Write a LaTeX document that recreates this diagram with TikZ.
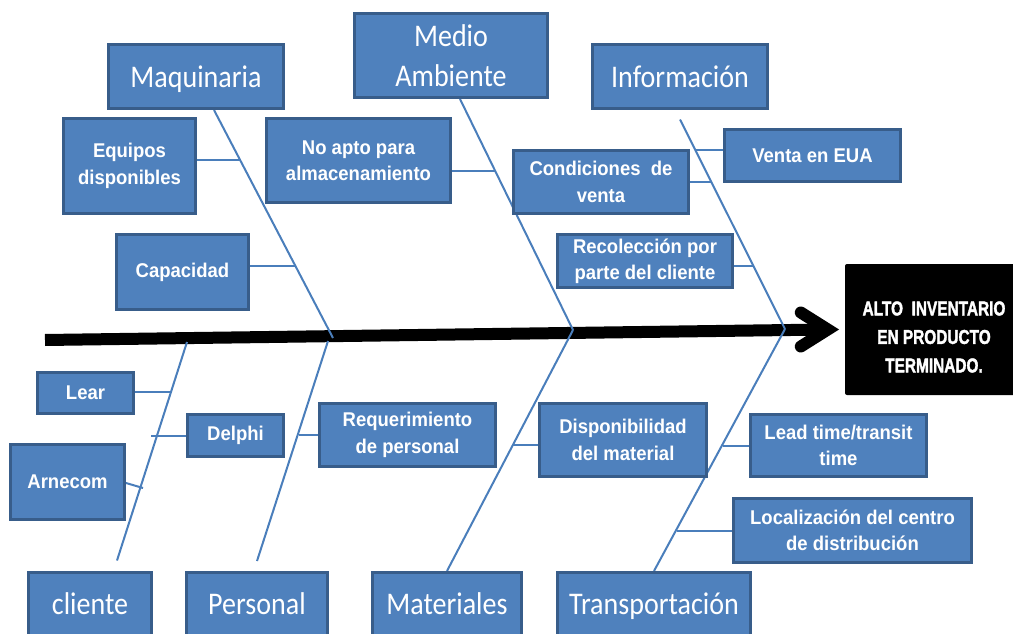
\documentclass[tikz,border=0pt]{standalone}
\usepackage{fontspec}
\newfontfamily\carl[FakeStretch=0.89]{Carlito}
\newfontfamily\lsans[FakeStretch=0.93]{Liberation Sans}
\newfontfamily\effont[FakeBold=2]{Liberation Sans}
\usetikzlibrary{backgrounds,calc}
\definecolor{boxfill}{RGB}{79,129,189}
\definecolor{boxline}{RGB}{56,93,138}
\definecolor{bonecol}{RGB}{74,126,187}
\begin{document}
\begin{tikzpicture}[x=1pt,y=-1pt,
 catbox/.style={draw=boxline, fill=boxfill, line width=3pt, text=white, align=center, inner sep=0pt, font=\carl\fontsize{31.5}{40}\selectfont},
 catone/.style={text=white, inner sep=0pt, font=\carl\fontsize{31.5}{40}\selectfont, text height=20.3pt, text depth=0pt},
 subbox/.style={draw=boxline, fill=boxfill, line width=3pt, text=white, align=center, inner sep=0pt, font=\lsans\bfseries\fontsize{19.9}{26.3}\selectfont},
 effbox/.style={fill=black, draw=none, rounded corners=2pt, inner sep=0pt},
 efftext/.style={text=white, align=center, inner sep=0pt, font=\effont\bfseries\fontsize{20}{28.5}\selectfont},
 bone/.style={draw=bonecol, line width=2pt},
 twig/.style={draw=bonecol, line width=2pt},
 spine/.style={draw=black, line width=12pt},
 chevron/.style={draw=black, line width=12pt, line cap=round, line join=miter}
]
\useasboundingbox (0,0) rectangle (1013,634);

% category boxes
\node[catbox, minimum width=175, minimum height=64] (maq) at (196,76.5) {};
\node[catone] (maqt) at (196,77) {Maquinaria};
\node[catbox, minimum width=193, minimum height=84] (med) at (451,55.5) {Medio\\Ambiente};
\node[catbox, minimum width=175, minimum height=64] (inf) at (680,76.5) {};
\node[catone] (inft) at (680,77) {Información};
\node[catbox, minimum width=123, minimum height=66] (cli) at (90,605.5) {};
\node[catone] (clit) at (90,604) {cliente};
\node[catbox, minimum width=141, minimum height=66] (per) at (257,605.5) {};
\node[catone] (pert) at (257,604) {Personal};
\node[catbox, minimum width=149, minimum height=66] (mat) at (447,605.5) {};
\node[catone] (matt) at (447,604) {Materiales};
\node[catbox, minimum width=193, minimum height=66] (tra) at (654,605.5) {};
\node[catone] (trat) at (654,604) {Transportación};

% cause boxes
\node[subbox, minimum width=132, minimum height=95] (eq) at (129.5,166) {Equipos\\disponibles};
\node[subbox, minimum width=184, minimum height=84] (noa) at (358.5,160.5) {No apto para\\almacenamiento};
\node[subbox, minimum width=132, minimum height=75] (cap) at (182.5,272) {Capacidad};
\node[subbox, minimum width=175, minimum height=63] (cond) at (601,182) {Condiciones\ \ de\\venta};
\node[subbox, minimum width=176, minimum height=52] (ven) at (812.5,155.5) {Venta en EUA};
\node[subbox, minimum width=175, minimum height=53] (rec) at (645,261) {Recolección por\\parte del cliente};
\node[subbox, minimum width=96, minimum height=41] (lear) at (85.5,393) {Lear};
\node[subbox, minimum width=96, minimum height=42] (del) at (235.5,435.5) {Delphi};
\node[subbox, minimum width=114, minimum height=75] (arn) at (67.5,482) {Arnecom};
\node[subbox, minimum width=176, minimum height=63] (req) at (407.5,435) {Requerimiento\\de personal};
\node[subbox, minimum width=167, minimum height=73] (disp) at (623,440) {Disponibilidad\\del material};
\node[subbox, minimum width=176, minimum height=62] (lead) at (838.5,445.5) {Lead time/transit\\time};
\node[subbox, minimum width=238, minimum height=64] (loc) at (852.5,530.5) {Localización del centro\\de distribución};

% effect
\node[effbox, minimum width=175, minimum height=131] (eff) at (932.5,329.5) {};
\node[efftext] (efft) at (934,337) {\scalebox{0.77}[1]{ALTO\ \ INVENTARIO}\\\scalebox{0.77}[1]{EN PRODUCTO}\\\scalebox{0.77}[1]{TERMINADO.}};

% coordinates
\coordinate (tail) at (45,340);
\coordinate (V) at ([xshift=-17pt]eff.west);
\coordinate (sp1) at (333,338);
\coordinate (sp2) at (573,330);
\coordinate (sp3) at (785,329);
\coordinate (sp4) at (187,342);
\coordinate (sp5) at (328,341);
\coordinate (t1) at (240,160);
\coordinate (t2) at (295,266);
\coordinate (t3) at (496,171);
\coordinate (t4) at (712,182);
\coordinate (t5) at (696,150);
\coordinate (t6) at (753,266);
\coordinate (t7) at (171,392);
\coordinate (t8) at (151,435.5);
\coordinate (t9) at (143,488);
\coordinate (t10) at (299,435);
\coordinate (t11) at (513,445);
\coordinate (t12) at (723,445.5);
\coordinate (t13) at (677,530.5);

\begin{pgfonlayer}{background}
\draw[spine] (tail) -- (V);
\draw[chevron] ($(V)+(-27,-17)$) -- (V) -- ($(V)+(-27,17)$);
% bones
\draw[bone] ([xshift=18pt]maq.south) -- (sp1);
\draw[bone] ([xshift=9pt]med.south) -- (sp2);
\draw[bone] ([yshift=-9.5pt]inf.south) -- (sp3);
\draw[bone] (sp4) -- ([xshift=27pt,yshift=10.5pt]cli.north);
\draw[bone] (sp5) -- ([yshift=10pt]per.north);
\draw[bone] (sp2) -- (mat.north);
\draw[bone] (sp3) -- (tra.north);
% twigs
\draw[twig] ([yshift=6pt]eq.east) -- (t1);
\draw[twig] ([yshift=6pt]cap.east) -- (t2);
\draw[twig] ([yshift=-10.5pt]noa.east) -- (t3);
\draw[twig] (cond.east) -- (t4);
\draw[twig] ([yshift=5.5pt]ven.west) -- (t5);
\draw[twig] ([yshift=-5pt]rec.east) -- (t6);
\draw[twig] ([yshift=1pt]lear.east) -- (t7);
\draw[twig] (del.west) -- (t8);
\draw[twig] ([yshift=-1pt]arn.east) -- (t9);
\draw[twig] (req.west) -- (t10);
\draw[twig] ([yshift=-5pt]disp.west) -- (t11);
\draw[twig] (lead.west) -- (t12);
\draw[twig] (loc.west) -- (t13);
\end{pgfonlayer}
\end{tikzpicture}
\end{document}
